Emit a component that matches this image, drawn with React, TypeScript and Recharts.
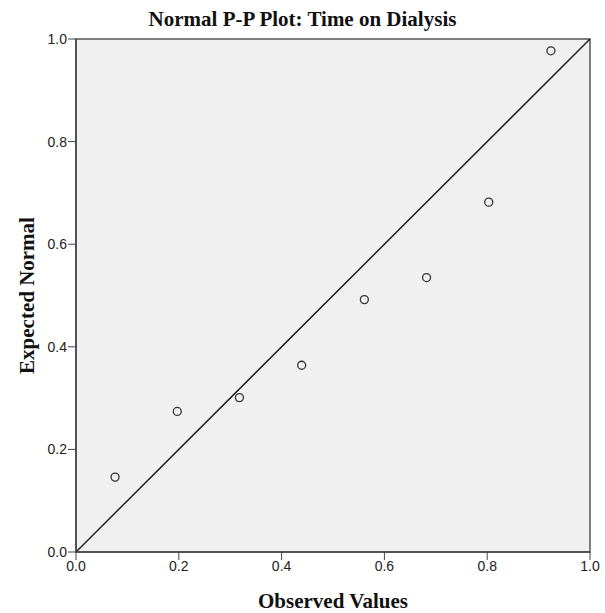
import React from 'react';
import { ScatterChart, Scatter, XAxis, YAxis, ReferenceArea, ReferenceLine, Label } from 'recharts';

const observed = [0.076, 0.197, 0.318, 0.439, 0.561, 0.682, 0.803, 0.924];
const expected = [0.146, 0.274, 0.301, 0.364, 0.492, 0.535, 0.682, 0.977];
const ticks = [0, 0.2, 0.4, 0.6, 0.8, 1.0];

const points = observed.map((x, i) => ({ x, y: expected[i] }));

const serif = '"Liberation Serif", "Times New Roman", serif';
const sans = '"Liberation Sans", Arial, sans-serif';

const Ring = (props: any) => (
  <circle cx={props.cx} cy={props.cy} r={4} fill="none" stroke="#333" strokeWidth={1.3} />
);

const App = () => {
  return (
    <div style={{ position: 'absolute', left: 0, top: 0, width: 605, height: 613 }}>
      <div
        style={{
          position: 'absolute',
          top: 9,
          left: 0,
          width: 605,
          textAlign: 'center',
          fontFamily: serif,
          fontWeight: 'bold',
          fontSize: 21,
          lineHeight: '21px',
          color: '#111',
        }}
      >
        Normal P-P Plot: Time on Dialysis
      </div>
      <ScatterChart width={605} height={613} margin={{ top: 39, right: 15, bottom: 0, left: 0 }}>
        <XAxis
          type="number"
          dataKey="x"
          domain={[0, 1]}
          ticks={ticks}
          tickFormatter={(v) => v.toFixed(1)}
          height={61}
          tickSize={8}
          tickMargin={1}
          stroke="#444"
          tick={{ fontSize: 14, fill: '#222', fontFamily: sans }}
          axisLine={{ stroke: '#444', strokeWidth: 1.5 }}
        >
          <Label
            value="Observed Values"
            position="insideBottom"
            offset={5}
            style={{ fontFamily: serif, fontWeight: 'bold', fontSize: 21, fill: '#111' }}
          />
        </XAxis>
        <YAxis
          type="number"
          dataKey="y"
          domain={[0, 1]}
          ticks={ticks}
          tickFormatter={(v) => v.toFixed(1)}
          width={76}
          tickSize={8}
          tickMargin={1}
          stroke="#444"
          tick={{ fontSize: 14, fill: '#222', fontFamily: sans }}
          axisLine={{ stroke: '#444', strokeWidth: 1.5 }}
        >
          <Label
            value="Expected Normal"
            angle={-90}
            position="insideLeft"
            offset={27}
            style={{ textAnchor: 'middle', fontFamily: serif, fontWeight: 'bold', fontSize: 21, fill: '#111' }}
          />
        </YAxis>
        <ReferenceArea x1={0} x2={1} y1={0} y2={1} fill="#f0f0f0" fillOpacity={1} stroke="#555" strokeWidth={1.5} />
        <ReferenceLine segment={[{ x: 0, y: 0 }, { x: 1, y: 1 }]} stroke="#222" strokeWidth={1.5} />
        <Scatter data={points} shape={Ring} isAnimationActive={false} />
      </ScatterChart>
    </div>
  );
};

export default App;
